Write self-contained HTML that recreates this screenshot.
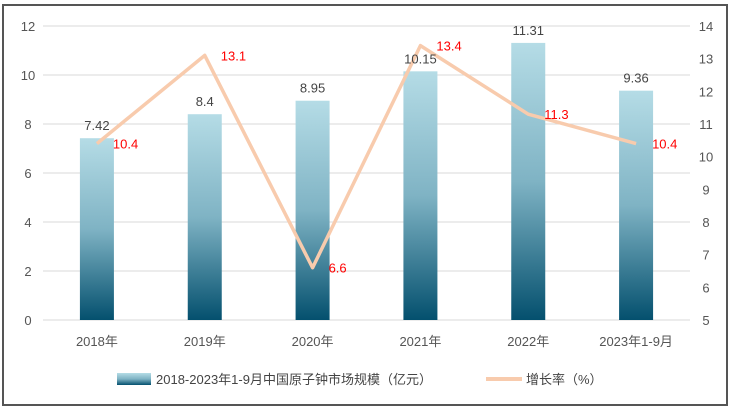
<!DOCTYPE html>
<html><head><meta charset="utf-8"><style>
body{margin:0;width:731px;height:408px;background:#fff;overflow:hidden}
svg{font-family:"Liberation Sans","Noto Sans CJK SC",sans-serif}
</style></head><body>
<svg width="731" height="408">
<defs><linearGradient id="g" x1="0" y1="0" x2="0" y2="1"><stop offset="0" stop-color="#b5dce6"/><stop offset="0.5" stop-color="#7fb3c4"/><stop offset="1" stop-color="#04506e"/></linearGradient></defs>
<rect x="3" y="5" width="724" height="400" fill="#fff" stroke="#555" stroke-width="2"/>
<g id="grid"></g><g id="bars"></g><g id="line"></g><g id="labels"></g>
<g>
<rect x="117" y="373" width="34" height="12" fill="url(#g)"/>
<text x="156" y="384" font-size="13" fill="#444">2018-2023年1-9月中国原子钟市场规模（亿元）</text>
<line x1="486" y1="379" x2="522" y2="379" stroke="#f8cbad" stroke-width="4"/>
<text x="526" y="384" font-size="13" fill="#444">增长率（%）</text>
</g>
</svg>
<script>
const categories=["2018年","2019年","2020年","2021年","2022年","2023年1-9月"];
const marketSize=[7.42,8.4,8.95,10.15,11.31,9.36];
const growth=[10.4,13.1,6.6,13.4,11.3,10.4];
const leftTicks=[0,2,4,6,8,10,12];
const rightTicks=[5,6,7,8,9,10,11,12,13,14];
const NS="http://www.w3.org/2000/svg";
const L=43,R=690,T=26,B=320;
const band=(R-L)/categories.length;
const xc=i=>L+band*(i+0.5);
const yl=v=>B-(v/12)*(B-T);
const yr=v=>B-((v-5)/9)*(B-T);
function mk(tag,attrs,parent,txt){const e=document.createElementNS(NS,tag);for(const k in attrs)e.setAttribute(k,attrs[k]);if(txt!==undefined)e.textContent=txt;document.getElementById(parent).appendChild(e);return e;}
leftTicks.forEach(t=>{
 const g=mk('line',{x1:L,x2:R,y1:yl(t),y2:yl(t),stroke:'#d9d9d9','stroke-width':1},'grid');
 
 
 const tx=mk('text',{x:28,y:yl(t)+5,'font-size':13,fill:'#555','text-anchor':'middle'},'grid',t);
 
 
});
rightTicks.forEach(t=>{
 const tx=mk('text',{x:706,y:yr(t)+5,'font-size':13,fill:'#555','text-anchor':'middle'},'grid',t);
 
 
});
categories.forEach((c,i)=>{
 const v=marketSize[i];
 const b=mk('rect',{x:xc(i)-17,y:yl(v),width:34,height:B-yl(v),fill:'url(#g)'},'bars');
 
 
 const lb=mk('text',{x:xc(i),y:yl(v)-8,'font-size':13,fill:'#444','text-anchor':'middle'},'labels',v);
 
 
 const xl=mk('text',{x:xc(i),y:346,'font-size':13,fill:'#555','text-anchor':'middle'},'labels',c);
 
 
 const gl=mk('text',{x:xc(i)+16,y:yr(growth[i])+5,'font-size':13,fill:'#f00'},'labels',growth[i]);
 
 
});
const pl=mk('polyline',{points:growth.map((g,i)=>xc(i)+','+yr(g)).join(' '),fill:'none',stroke:'#f8cbad','stroke-width':3.5,'stroke-linejoin':'round'},'line');


</script>
</body></html>
